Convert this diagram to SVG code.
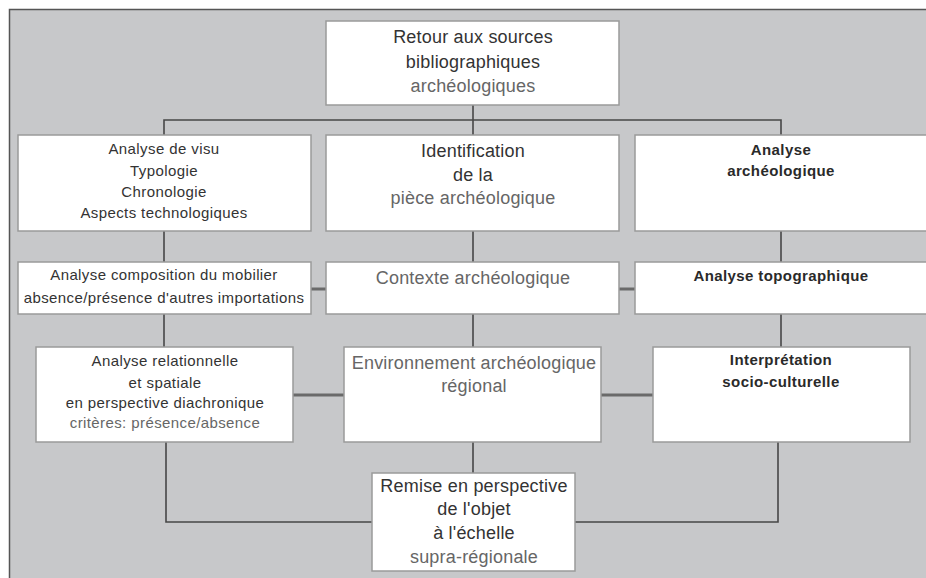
<svg xmlns="http://www.w3.org/2000/svg" width="926" height="578" viewBox="0 0 926 578">
<style>
.box{fill:#ffffff;stroke:#9a9a9a;stroke-width:1.5}
.t{font-family:"Liberation Sans",Arial,sans-serif;text-anchor:middle}
.lg{font-size:18px;letter-spacing:0.2px;fill:#333}
.sm{font-size:15px;letter-spacing:0.4px;fill:#333}
.b{font-weight:bold;fill:#2a2a2a}
.lt{fill:#666}
.ln{fill:none;stroke:#474747;stroke-width:1.6}
.thk{fill:none;stroke:#6a6a6a;stroke-width:3}
</style>
<rect x="0" y="0" width="926" height="578" fill="#ffffff"/>
<rect x="9.5" y="9.5" width="930" height="580" fill="#c7c8ca" stroke="#555" stroke-width="1.5"/>

<g id="connectors">
  <path class="ln" d="M473 105 V135 M164 135 V120 H781 V135"/>
  <path class="ln" d="M164 231 V262 M473 231 V262 M781 231 V262"/>
  <path class="thk" d="M311 289 H326 M619 289 H635"/>
  <path class="ln" d="M164 314 V347 M473 314 V347 M781 314 V347"/>
  <path class="thk" d="M293 395 H344 M601 395 H653"/>
  <path class="ln" d="M473 442 V473 M166 442 V522 H372 M778 442 V522 H575"/>
</g>

<g id="n-retour">
  <rect class="box" x="326" y="21" width="293" height="84"/>
  <text class="t lg" x="473" y="43">Retour aux sources</text>
  <text class="t lg" x="473" y="68">bibliographiques</text>
  <text class="t lg lt" x="473" y="92">archéologiques</text>
</g>

<g id="n-visu">
  <rect class="box" x="18" y="135" width="293" height="96"/>
  <text class="t sm" x="164" y="154">Analyse de visu</text>
  <text class="t sm" x="164" y="176">Typologie</text>
  <text class="t sm" x="164" y="197">Chronologie</text>
  <text class="t sm" x="164" y="218">Aspects technologiques</text>
</g>

<g id="n-identification">
  <rect class="box" x="326" y="135" width="293" height="96"/>
  <text class="t lg" x="473" y="157">Identification</text>
  <text class="t lg" x="473" y="181">de la</text>
  <text class="t lg lt" x="473" y="204">pièce archéologique</text>
</g>

<g id="n-analyse-arch">
  <rect class="box" x="635" y="135" width="300" height="96"/>
  <text class="t sm b" x="781" y="155">Analyse</text>
  <text class="t sm b" x="781" y="176">archéologique</text>
</g>

<g id="n-composition">
  <rect class="box" x="18" y="262" width="293" height="52"/>
  <text class="t sm" x="164" y="280">Analyse composition du mobilier</text>
  <text class="t sm" x="164" y="303">absence/présence d'autres importations</text>
</g>

<g id="n-contexte">
  <rect class="box" x="326" y="262" width="293" height="52"/>
  <text class="t lg lt" x="473" y="284">Contexte archéologique</text>
</g>

<g id="n-topo">
  <rect class="box" x="635" y="262" width="300" height="52"/>
  <text class="t sm b" x="781" y="281">Analyse topographique</text>
</g>

<g id="n-relationnelle">
  <rect class="box" x="36" y="347" width="257" height="95"/>
  <text class="t sm" x="165" y="366">Analyse relationnelle</text>
  <text class="t sm" x="165" y="388">et spatiale</text>
  <text class="t sm" x="165" y="408">en perspective diachronique</text>
  <text class="t sm lt" x="165" y="428">critères: présence/absence</text>
</g>

<g id="n-environnement">
  <rect class="box" x="344" y="347" width="257" height="95"/>
  <text class="t lg lt" x="474" y="369">Environnement archéologique</text>
  <text class="t lg lt" x="474" y="392">régional</text>
</g>

<g id="n-interpretation">
  <rect class="box" x="653" y="347" width="257" height="95"/>
  <text class="t sm b" x="781" y="365">Interprétation</text>
  <text class="t sm b" x="781" y="387">socio-culturelle</text>
</g>

<g id="n-remise">
  <rect class="box" x="372" y="473" width="203" height="98" stroke="#777"/>
  <text class="t lg" x="474" y="492">Remise en perspective</text>
  <text class="t lg" x="474" y="515">de l'objet</text>
  <text class="t lg" x="474" y="539">à l'échelle</text>
  <text class="t lg lt" x="474" y="563">supra-régionale</text>
</g>
</svg>
